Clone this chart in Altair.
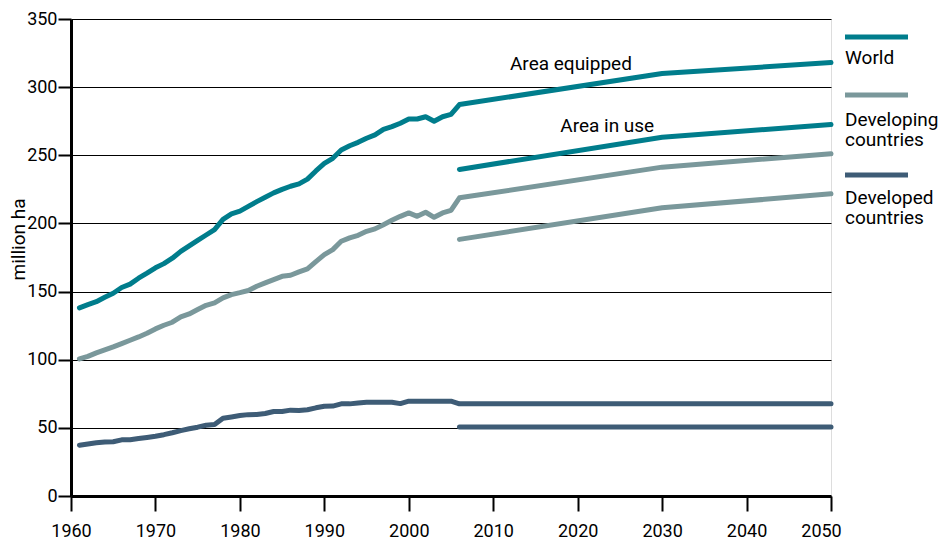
import altair as alt
import pandas as pd

FONT = "Roboto"

# ---------------- data ----------------
hist_years = list(range(1961, 2006))

world_hist = [138.0, 140.4, 142.6, 145.8, 148.8, 153.0, 155.5, 159.8, 163.5, 167.4,
              170.5, 174.5, 179.5, 183.5, 187.5, 191.5, 195.5, 203.0, 207.0, 209.0,
              212.5, 216.0, 219.2, 222.4, 225.0, 227.3, 229.0, 232.5, 238.5, 244.0,
              247.8, 253.9, 257.0, 259.5, 262.5, 265.0, 269.0, 271.0, 273.5, 276.6,
              276.6, 278.3, 275.0, 278.3, 280.0]

developing_hist = [100.6, 102.5, 105.0, 107.2, 109.4, 111.8, 114.3, 116.7, 119.4, 122.6,
                   125.3, 127.5, 131.4, 133.6, 136.8, 139.9, 141.7, 145.4, 147.8, 149.2,
                   150.8, 153.9, 156.4, 158.8, 161.2, 162.0, 164.4, 166.6, 172.0, 177.1,
                   180.8, 186.9, 189.4, 191.3, 194.2, 196.0, 199.1, 202.3, 205.2, 207.7,
                   205.2, 208.2, 204.5, 207.7, 209.6]

developed_hist = [37.3, 38.2, 39.0, 39.6, 39.8, 41.2, 41.3, 42.2, 43.0, 43.9,
                  45.0, 46.4, 48.0, 49.3, 50.5, 51.9, 52.4, 57.1, 58.0, 59.0,
                  59.7, 59.8, 60.5, 62.0, 62.0, 63.0, 62.7, 63.3, 64.7, 65.9,
                  66.0, 67.6, 67.6, 68.3, 68.8, 68.8, 68.8, 68.8, 67.8, 69.6,
                  69.6, 69.6, 69.6, 69.6, 69.6]

proj_years = [2006, 2030, 2050]
world_equipped_proj = [287.2, 310.0, 318.0]
world_inuse_proj = [239.6, 263.3, 272.6]
developing_equipped_proj = [218.8, 241.3, 251.1]
developing_inuse_proj = [188.3, 211.5, 221.7]
developed_equipped_proj = [67.6, 67.6, 67.6]
developed_inuse_proj = [50.7, 50.7, 50.7]

regions = ["World", "Developing countries", "Developed countries"]
region_colors = ["#007d8c", "#7a989b", "#3e5c76"]

annotation_labels = ["Area equipped", "Area in use"]
annotation_years = [2019.2, 2023.5]
annotation_values = [312.3, 267.2]

x_ticks = [1960, 1970, 1980, 1990, 2000, 2010, 2020, 2030, 2040, 2050]
y_ticks = [0, 50, 100, 150, 200, 250, 300, 350]

# ---------------- table ----------------
rows = []
series_sets = [
    ("World", world_hist, world_equipped_proj, world_inuse_proj),
    ("Developing countries", developing_hist, developing_equipped_proj, developing_inuse_proj),
    ("Developed countries", developed_hist, developed_equipped_proj, developed_inuse_proj),
]
for name, hist, eq, use in series_sets:
    for yr, v in zip(hist_years, hist):
        rows.append({"year": yr, "value": v, "region": name, "series": name + " equipped"})
    for yr, v in zip(proj_years, eq):
        rows.append({"year": yr, "value": v, "region": name, "series": name + " equipped"})
    for yr, v in zip(proj_years, use):
        rows.append({"year": yr, "value": v, "region": name, "series": name + " in use"})
df = pd.DataFrame(rows)

ann_df = pd.DataFrame({"label": annotation_labels, "year": annotation_years,
                       "value": annotation_values})

W, H = 760, 477

x_enc = alt.X(
    "year:Q",
    scale=alt.Scale(domain=[1960, 2050], nice=False, zero=False),
    axis=alt.Axis(
        values=x_ticks, format="d", title=None, grid=False,
        domainColor="black", domainWidth=3,
        tickColor="black", tickWidth=2, tickSize=15,
        labelFont=FONT, labelFontSize=18, labelColor="black",
        labelPadding=11, labelFlush=False,
        labelOffset={"condition": {"test": "datum.value == 2050", "value": -10}, "value": 0},
    ),
)
y_enc = alt.Y(
    "value:Q",
    scale=alt.Scale(domain=[0, 350], nice=False),
    axis=alt.Axis(
        values=y_ticks, title="million ha", grid=True,
        gridColor="black", gridWidth=1, gridOpacity=1,
        domainColor="black", domainWidth=3,
        tickColor="black", tickWidth=2, tickSize=13,
        labelFont=FONT, labelFontSize=18, labelColor="black", labelPadding=1,
        titleFont=FONT, titleFontSize=19, titleFontWeight="normal", titleColor="black",
        titleAngle=270, titleX=-53, titleY=220, titleAlign="center", titleBaseline="middle",
    ),
)

lines = alt.Chart(df).mark_line(strokeWidth=5, strokeCap="round", strokeJoin="round").encode(
    x=x_enc,
    y=y_enc,
    color=alt.Color("region:N", scale=alt.Scale(domain=regions, range=region_colors), legend=None),
    detail="series:N",
)

annotations = alt.Chart(ann_df).mark_text(
    font=FONT, fontSize=19, color="black", align="center", baseline="alphabetic"
).encode(x="year:Q", y="value:Q", text="label:N")

# ---------------- custom legend (swatch above label) ----------------
legend_swatch_y = [18, 76, 156]
legend_text_y = [45, 107, 185]
legend_labels = ["World", "Developing\ncountries", "Developed\ncountries"]

legend_layers = []
for i, name in enumerate(regions):
    legend_layers.append(
        alt.Chart(pd.DataFrame({"region": [name]})).mark_rule(strokeWidth=5, strokeCap="butt").encode(
            x=alt.value(774), x2=alt.value(837), y=alt.value(legend_swatch_y[i]),
            color=alt.value(region_colors[i]),
        )
    )
    legend_layers.append(
        alt.Chart(pd.DataFrame({"label": [legend_labels[i]]})).mark_text(
            font=FONT, fontSize=19, color="black", align="left", baseline="alphabetic",
            lineBreak="\n", lineHeight=20,
        ).encode(x=alt.value(774), y=alt.value(legend_text_y[i]), text="label:N")
    )

chart = alt.layer(lines, annotations, *legend_layers).properties(
    width=W, height=H,
    autosize=alt.AutoSizeParams(type="none"),
    padding={"left": 63, "top": 11, "right": 108, "bottom": 45},
).configure_view(stroke=None).configure(background="white")

chart.save("out.html", embed_options={"renderer": "svg", "actions": False})
